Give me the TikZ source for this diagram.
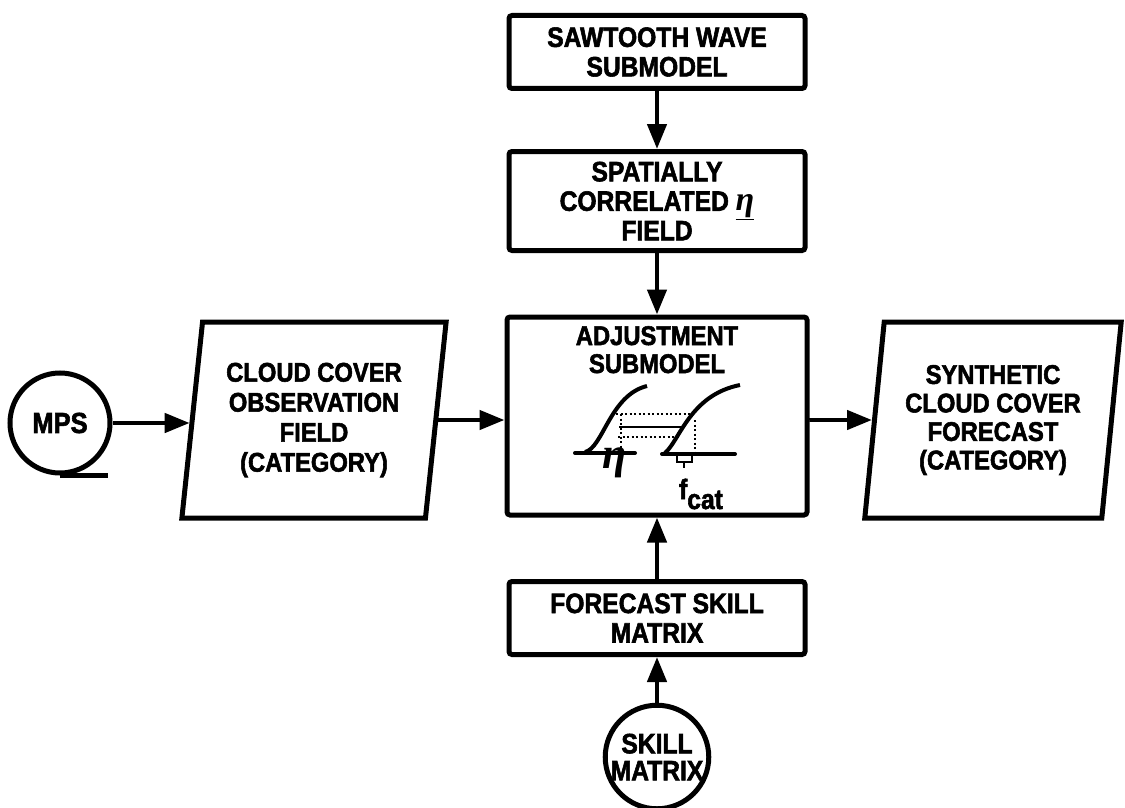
\documentclass[tikz,border=0pt]{standalone}
\usepackage{fontspec}
\newfontfamily\boxfont{Liberation Sans}[UprightFont=* Bold,FakeStretch=0.88,FakeBold=2]
\newfontfamily\etafont{Liberation Serif}[UprightFont=* Bold Italic]
\usetikzlibrary{arrows.meta,shapes.geometric,positioning}

\begin{document}
\begin{tikzpicture}[x=1pt,y=-1pt,
    box/.style={draw,line width=5pt,rounded corners=3pt,minimum width=296pt,inner sep=2pt,align=center,font=\boxfont\fontsize{28}{29.5}\selectfont},
    para/.style={draw,line width=5pt,trapezium,trapezium left angle=82,trapezium right angle=98,trapezium stretches=true,minimum height=196pt,inner sep=2pt,align=center},
    tape/.style={draw,circle,line width=5pt,minimum size=100pt,inner sep=0pt,align=center},
    arr/.style={-{Triangle[length=25pt,width=19pt]},line width=4.5pt},
    curve/.style={line width=4pt},
    dots/.style={line width=2pt,dash pattern=on 2pt off 2.5pt}]
  \useasboundingbox (0,0) rectangle (1125,808);

  % centre column
  \node[box,minimum height=73pt] (saw) at (657,52) {SAWTOOTH WAVE\\SUBMODEL};
  \node[box,minimum height=99pt] (spat) at (657,201)
    {SPATIALLY\\CORRELATED {\etafont\fontsize{34}{30}\selectfont\underline{η}}\\FIELD};
  \node[box,minimum width=300pt,minimum height=198pt,inner sep=8pt,text height=48pt,text depth=134pt,
    font=\boxfont\fontsize{27}{28}\selectfont] (adj) at (657,416) {ADJUSTMENT\\SUBMODEL};
  \node[box,minimum height=73pt] (fsm) at (657,618) {FORECAST SKILL\\MATRIX};
  \node[tape,font=\boxfont\fontsize{28}{27}\selectfont] (skl) at (657,757) {SKILL\\MATRIX};
  \draw[line width=5pt] (skl.south) -- ++(55,0);

  % left and right
  \node[tape,font=\boxfont\fontsize{29}{28}\selectfont] (mps) at (60,423) {MPS};
  \draw[line width=5pt] (mps.south) -- ++(48,0);
  \node[para,minimum width=265pt,font=\boxfont\fontsize{27}{30}\selectfont] (cloud) at (314,420)
    {CLOUD COVER\\OBSERVATION\\FIELD\\(CATEGORY)};
  \node[para,minimum width=257pt,font=\boxfont\fontsize{27}{28.5}\selectfont] (synth) at (993,420)
    {SYNTHETIC\\CLOUD COVER\\FORECAST\\(CATEGORY)};

  % sketch inside the adjustment box
  \draw[curve,line cap=round] (575,453) -- (635,453);
  \draw[curve,line cap=round] (662,454) -- (735,454);
  \draw[curve] (585,452) .. controls (603,448) and (610,395) .. (647,386);
  \draw[curve] (665,453) .. controls (680,440) and (690,395) .. (740,385);
  \draw[dots] (616,414) -- (692,414);
  \draw[line width=2.5pt] (619,427) -- (684,427);
  \draw[dots] (618,437) -- (679,437);
  \draw[dots] (621,414) -- (621,452);
  \draw[dots] (695,420) -- (695,452);
  \draw[line width=2pt] (677,456) -- (677,462) -- (692,462) -- (692,456);
  \draw[line width=2pt] (684,462) -- (684,468);
  \node[font=\etafont\fontsize{44}{44}\selectfont] (eta) at (615,463) {η};
  \node[font=\boxfont\fontsize{28}{28}\selectfont] (fcat) at (701,494) {f\raisebox{-10pt}{cat}};

  % connectors
  \draw[arr] (saw) -- (spat);
  \draw[arr] (spat) -- (adj);
  \draw[arr] (skl) -- (fsm);
  \draw[arr] (fsm) -- (adj);
  \draw[arr] (mps) -- (mps -| cloud.west);
  \draw[arr] (cloud.east) -- (cloud.east -| adj.west);
  \draw[arr] (adj.east |- cloud.east) -- (adj.east |- synth.west) -- (synth.west);
\end{tikzpicture}
\end{document}
